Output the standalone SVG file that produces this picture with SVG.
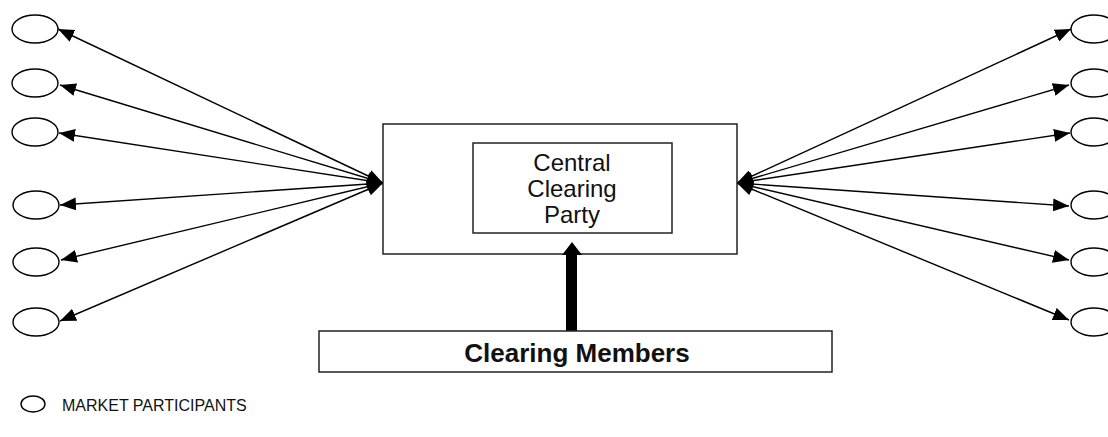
<svg xmlns="http://www.w3.org/2000/svg" width="1108" height="437" viewBox="0 0 1108 437">
<style>
.box{fill:#fff;stroke:#222;stroke-width:1.5}
.mp{fill:#fff;stroke:#000;stroke-width:1.4}
.ln{stroke:#000;stroke-width:1.4;fill:none;marker-start:url(#ah);marker-end:url(#ah)}
.t{font-family:"Liberation Sans",Arial,sans-serif;fill:#111;text-anchor:middle}
</style>
<defs>
<marker id="ah" markerUnits="userSpaceOnUse" markerWidth="17" markerHeight="13" refX="16" refY="6.5" orient="auto-start-reverse" viewBox="0 0 17 13">
<path d="M0,0 L16,6.5 L0,13 z" fill="#000"/>
</marker>
</defs>
<rect width="1108" height="437" fill="#fff"/>
<g id="connectors">
<line class="ln" x1="383" y1="183" x2="58" y2="29"/>
<line class="ln" x1="383" y1="183" x2="60" y2="85"/>
<line class="ln" x1="383" y1="183" x2="59" y2="133"/>
<line class="ln" x1="383" y1="183" x2="60" y2="205"/>
<line class="ln" x1="383" y1="183" x2="61" y2="260"/>
<line class="ln" x1="383" y1="183" x2="60" y2="321"/>
<line class="ln" x1="737" y1="183" x2="1071" y2="29"/>
<line class="ln" x1="737" y1="183" x2="1069" y2="85"/>
<line class="ln" x1="737" y1="183" x2="1070" y2="133"/>
<line class="ln" x1="737" y1="183" x2="1069" y2="206"/>
<line class="ln" x1="737" y1="183" x2="1069" y2="260"/>
<line class="ln" x1="737" y1="183" x2="1069" y2="320"/>
</g>
<g id="outer-box"><rect class="box" x="383" y="124" width="354" height="130"/></g>
<g id="central-clearing-party">
<rect class="box" x="473" y="143" width="199" height="90"/>
<text class="t" font-size="24"><tspan x="572" y="171">Central</tspan><tspan x="572" y="197">Clearing</tspan><tspan x="572" y="223">Party</tspan></text>
</g>
<g id="members-arrow">
<path d="M566,331 L566,255 L562,255 L572,242 L582,255 L577,255 L577,331 z" fill="#000"/>
</g>
<g id="clearing-members">
<rect class="box" x="319" y="331" width="513" height="41"/>
<text class="t" x="577" y="362" font-size="26" font-weight="bold">Clearing Members</text>
</g>
<g id="mp-left-1"><ellipse class="mp" cx="35" cy="29" rx="23" ry="14"/></g>
<g id="mp-left-2"><ellipse class="mp" cx="35" cy="83" rx="23" ry="14"/></g>
<g id="mp-left-3"><ellipse class="mp" cx="35" cy="132" rx="23" ry="14"/></g>
<g id="mp-left-4"><ellipse class="mp" cx="36" cy="205" rx="23" ry="14"/></g>
<g id="mp-left-5"><ellipse class="mp" cx="36" cy="262" rx="23" ry="14"/></g>
<g id="mp-left-6"><ellipse class="mp" cx="36" cy="322" rx="23" ry="14"/></g>
<g id="mp-right-1"><ellipse class="mp" cx="1094" cy="29" rx="23" ry="14"/></g>
<g id="mp-right-2"><ellipse class="mp" cx="1094" cy="83" rx="23" ry="14"/></g>
<g id="mp-right-3"><ellipse class="mp" cx="1094" cy="132" rx="23" ry="14"/></g>
<g id="mp-right-4"><ellipse class="mp" cx="1094" cy="205" rx="23" ry="14"/></g>
<g id="mp-right-5"><ellipse class="mp" cx="1094" cy="262" rx="23" ry="14"/></g>
<g id="mp-right-6"><ellipse class="mp" cx="1094" cy="322" rx="23" ry="14"/></g>
<g id="legend">
<ellipse class="mp" cx="33" cy="404" rx="12" ry="8"/>
<text x="62" y="411" font-size="16" font-family="'Liberation Sans',Arial,sans-serif" fill="#111">MARKET PARTICIPANTS</text>
</g>
</svg>
